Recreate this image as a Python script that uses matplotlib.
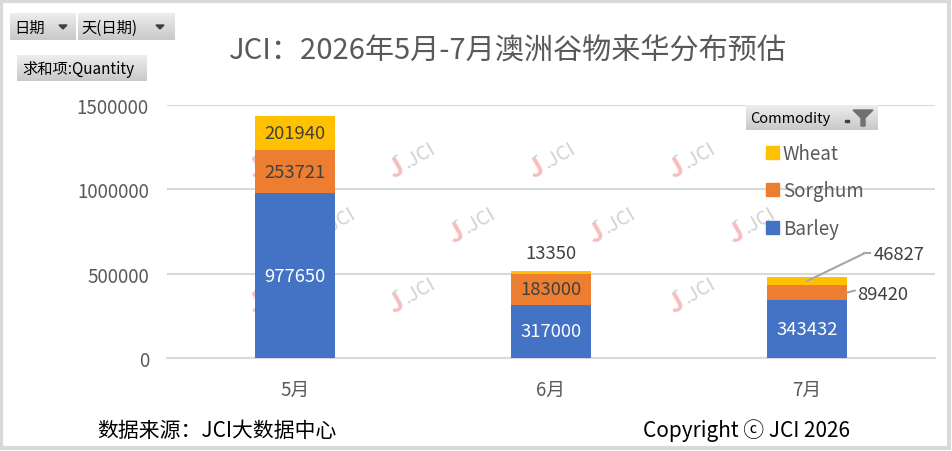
import matplotlib
matplotlib.use("Agg")
import matplotlib.pyplot as plt
import numpy as np
from matplotlib.patches import Rectangle, Polygon, Patch

plt.rcParams['font.family'] = ['Noto Sans CJK SC', 'DejaVu Sans']

months = ["5月", "6月", "7月"]
barley = [977650, 317000, 343432]
sorghum = [253721, 183000, 89420]
wheat = [201940, 13350, 46827]
yticks = [0, 500000, 1000000, 1500000]

BLUE = "#4472C4"
ORANGE = "#ED7D31"
GOLD = "#FFC000"
GRID = "#D9D9D9"
GRAYTXT = "#595959"
DARKTXT = "#404040"
LEADER = "#A6A6A6"

W, H = 953, 452
fig = plt.figure(figsize=(W / 100, H / 100), dpi=100)


def pixel_axes(z):
    a = fig.add_axes([0, 0, 1, 1], zorder=z)
    a.set_xlim(0, W)
    a.set_ylim(H, 0)
    a.axis("off")
    a.patch.set_alpha(0)
    return a


# watermark layer sits under the bars, decorations layer above
wm = pixel_axes(1)
ov = pixel_axes(5)

ax = fig.add_axes([167 / W, 1 - 359 / H, (935 - 167) / W, (359 - 106) / H], zorder=2)
ax.patch.set_alpha(0)

x = np.arange(len(months))
bw = 0.3125
ax.bar(x, barley, bw, color=BLUE, zorder=3)
ax.bar(x, sorghum, bw, bottom=barley, color=ORANGE, zorder=3)
bottom3 = [a + b for a, b in zip(barley, sorghum)]
ax.bar(x, wheat, bw, bottom=bottom3, color=GOLD, zorder=3)

ax.set_xlim(-0.5, 2.5)
ax.set_ylim(0, 1500000)
ax.set_yticks(yticks)
ax.set_yticklabels([str(v) for v in yticks])
ax.set_xticks(x)
ax.set_xticklabels(months)
ax.yaxis.grid(True, color=GRID, linewidth=1.5, zorder=0)
ax.set_axisbelow(True)
for s in ["top", "right", "left"]:
    ax.spines[s].set_visible(False)
ax.spines["bottom"].set_color(GRID)
ax.spines["bottom"].set_linewidth(1.5)
ax.tick_params(axis="both", length=0, colors=GRAYTXT, labelsize=13.5)
ax.tick_params(axis="y", pad=13)
ax.tick_params(axis="x", pad=15)

# data labels
lfs = 13.3
for i in range(3):
    ax.text(x[i], barley[i] / 2, str(barley[i]), ha="center", va="center",
            color="white", fontsize=lfs, zorder=4)
for i in [0, 1]:
    ax.text(x[i], barley[i] + sorghum[i] / 2, str(sorghum[i]), ha="center", va="center",
            color=DARKTXT, fontsize=lfs, zorder=4)
ax.text(x[0], bottom3[0] + wheat[0] / 2, str(wheat[0]), ha="center", va="center",
        color=DARKTXT, fontsize=lfs, zorder=4)
# 6月 wheat sits above the bar
ax.annotate(str(wheat[1]), (x[1], bottom3[1] + wheat[1]), xytext=(0, 18),
            textcoords="offset pixels", ha="center", va="center",
            color=DARKTXT, fontsize=lfs, zorder=4)

# 7月 callouts with leader lines
sorg_anchor = (x[2] + bw / 2, barley[2] + sorghum[2] / 2)
ax.annotate("", sorg_anchor, xytext=(8, 2), textcoords="offset pixels",
            arrowprops=dict(arrowstyle="-", color=LEADER, lw=1.5, shrinkA=0, shrinkB=0))
ax.annotate(str(sorghum[2]), sorg_anchor, xytext=(36, -1), textcoords="offset pixels",
            ha="center", va="center", color=DARKTXT, fontsize=lfs, zorder=4)

wheat_anchor = (x[2], bottom3[2] + wheat[2] / 2)
ax.annotate("", wheat_anchor, xytext=(58, 28), textcoords="offset pixels",
            arrowprops=dict(arrowstyle="-", color=LEADER, lw=1.5, shrinkA=0, shrinkB=0))
px0, py0 = ax.transData.transform(wheat_anchor)
ax.plot([px0 + 57, px0 + 63], [py0 + 28, py0 + 28], color=LEADER, lw=1.5,
        transform=None, zorder=4)
ax.annotate(str(wheat[2]), wheat_anchor, xytext=(92, 27), textcoords="offset pixels",
            ha="center", va="center", color=DARKTXT, fontsize=lfs, zorder=4)

# watermarks
marks = [(270, 162), (410, 162), (550, 162), (690, 162),
         (330, 227), (470, 227), (610, 227), (750, 227),
         (270, 297), (410, 297), (550, 297), (690, 297)]
for mx, my in marks:
    wm.text(mx - 14, my + 7, "J", rotation=30, ha="center", va="center",
            fontsize=19, fontweight="bold", color="#F6BDBD")
    wm.text(mx - 15, my - 6, "-", rotation=30, ha="center", va="center",
            fontsize=11, fontweight="bold", color="#BFE3D0")
    wm.text(mx + 10, my - 6, ".JCI", rotation=30, ha="center", va="center",
            fontsize=14, color="#D3D3D3")

# title
ov.text(508, 52, "JCI：2026年5月-7月澳洲谷物来华分布预估", ha="center", va="center",
        fontsize=21, color=GRAYTXT)


def button(x0, y0, x1, y1):
    grad = np.linspace(0, 1, 50).reshape(-1, 1)
    cmap = matplotlib.colors.LinearSegmentedColormap.from_list("g", ["#EDEDED", "#C9C9C9"])
    ov.imshow(grad, extent=(x0, x1, y1, y0), cmap=cmap, aspect="auto", zorder=6)


def down_arrow(cx, cy, s=4):
    ov.add_patch(Polygon([(cx - s, cy - s / 2), (cx + s, cy - s / 2), (cx, cy + s / 2)],
                         closed=True, color="#404040", zorder=7))


button(10, 14, 76, 41)
ov.text(14, 28, "日期", ha="left", va="center", fontsize=11, color="black", zorder=7)
down_arrow(63, 28)
button(78, 14, 175, 41)
ov.text(81, 28, "天(日期)", ha="left", va="center", fontsize=11, color="black", zorder=7)
down_arrow(160, 28)
button(17, 56, 147, 82)
ov.text(22, 70, "求和项:Quantity", ha="left", va="center", fontsize=11, color="black", zorder=7)

# Commodity filter button
button(746, 106, 878, 131)
ov.text(750, 119, "Commodity", ha="left", va="center", fontsize=10.5, color="black", zorder=7)
ov.add_patch(Rectangle((845, 121), 4, 1.5, color="#404040", zorder=7))
ov.add_patch(Polygon([(853, 111), (873, 111), (865, 119), (865, 127), (861, 127), (861, 119)],
                     closed=True, color="#707070", zorder=7))

# legend
handles = [Patch(color=GOLD, label="Wheat"), Patch(color=ORANGE, label="Sorghum"),
           Patch(color=BLUE, label="Barley")]
leg = ov.legend(handles=handles, loc="upper left", bbox_to_anchor=(749 / W, 1 - 127 / H),
                bbox_transform=fig.transFigure, frameon=False, fontsize=13.5,
                handlelength=0.7, handleheight=0.7, handletextpad=0.2, labelspacing=0.88)
for t in leg.get_texts():
    t.set_color(GRAYTXT)

# footer
ov.text(97, 431, "数据来源：JCI大数据中心", ha="left", va="center", fontsize=15, color="black")
ov.text(643, 431, "Copyright ⓒ JCI 2026", ha="left", va="center", fontsize=15, color="black")

# frame
ov.add_patch(Rectangle((1.5, 1.5), W - 5, H - 5, fill=False, edgecolor="#D9D9D9", lw=3, zorder=8))

fig.savefig("out.png", dpi=100)
